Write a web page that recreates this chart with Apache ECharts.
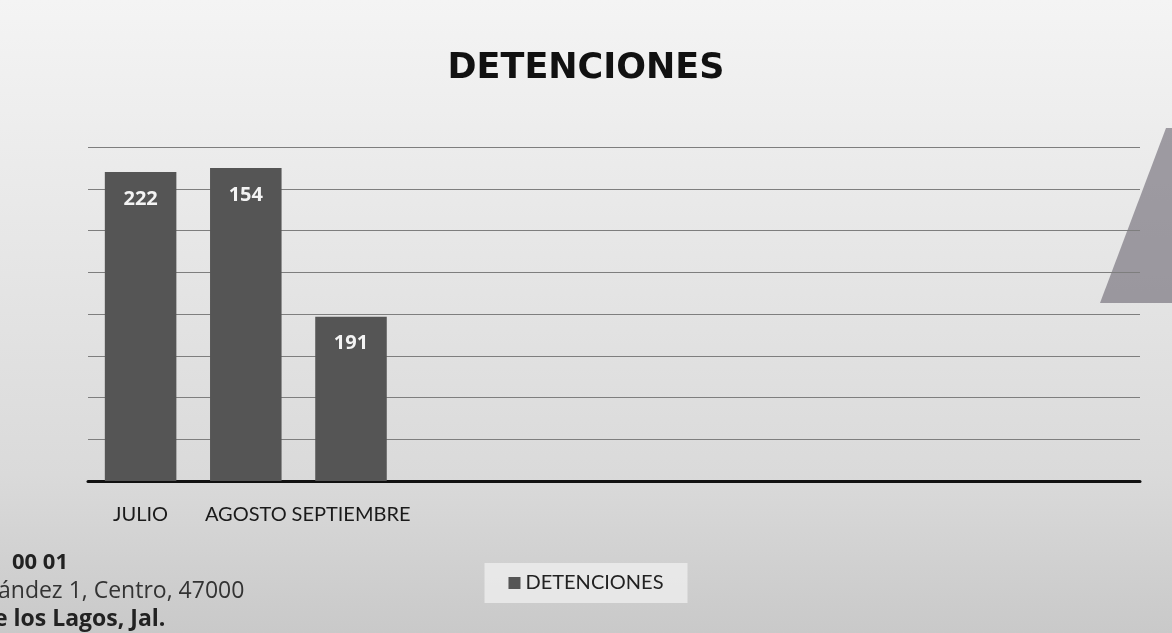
<!DOCTYPE html>
<html>
<head>
<meta charset="utf-8">
<script src="https://cdn.jsdelivr.net/npm/echarts@6/dist/echarts.min.js"></script>
<style>
  html, body { margin: 0; padding: 0; }
  #canvas { width: 1172px; height: 633px; }
</style>
</head>
<body>
<div id="canvas"></div>
<script>
/* eslint-disable no-undef */
const chart = echarts.init(document.getElementById('canvas'));

// months on the axis; the rest of the slots are empty in the original
const months = ['JULIO', 'AGOSTO', 'SEPTIEMBRE', '', '', '', '', '', '', ''];
// bar heights as read against the gridlines (30 per line)
const barHeights = [222, 225, 118];
// numbers printed on the bars
const printedValues = ['222', '154', '191'];

const option = {
  backgroundColor: {
    type: 'linear', x: 0, y: 0, x2: 0, y2: 1,
    colorStops: [
      { offset: 0, color: '#f4f4f4' },
      { offset: 0.75, color: '#dadada' },
      { offset: 1, color: '#c9c9c9' },
    ],
  },
  title: {
    text: 'DETENCIONES',
    left: 'center',
    top: 46,
    textStyle: {
      fontFamily: 'DejaVu Sans',
      fontWeight: 'bold',
      fontSize: 35,
      color: '#111',
    },
  },
  legend: {
    bottom: 30,
    left: 'center',
    icon: 'rect',
    itemWidth: 12,
    itemHeight: 12,
    itemGap: 6,
    padding: [10, 24],
    backgroundColor: 'rgba(242,242,242,0.7)',
    textStyle: { fontFamily: 'Lato', fontSize: 20, color: '#222' },
    data: ['DETENCIONES'],
  },
  grid: {
    left: 88,
    right: 32,
    top: 147,
    bottom: 152,
  },
  xAxis: {
    type: 'category',
    data: months,
    axisLine: { lineStyle: { color: '#111', width: 3 } },
    axisTick: { show: false },
    axisLabel: {
      fontFamily: 'Lato',
      fontSize: 20,
      color: '#1a1a1a',
      margin: 24,
      interval: 0,
    },
  },
  yAxis: {
    type: 'value',
    min: 0,
    max: 240,
    interval: 30,
    axisLabel: { show: false },
    axisLine: { show: false },
    axisTick: { show: false },
    splitLine: { lineStyle: { color: '#7e7e7e', width: 1 } },
  },
  series: [
    {
      name: 'DETENCIONES',
      type: 'bar',
      barCategoryGap: '32%',
      itemStyle: { color: '#555555' },
      label: {
        show: true,
        position: 'insideTop',
        distance: 17,
        formatter: (p) => printedValues[p.dataIndex],
        fontFamily: 'Open Sans',
        fontWeight: 'bold',
        fontSize: 20,
        color: '#f4f4f4',
      },
      data: barHeights,
    },
  ],
  graphic: [
    {
      type: 'polygon',
      shape: { points: [[1100, 303], [1166, 128], [1172, 128], [1172, 303]] },
      style: { fill: 'rgba(105,100,112,0.6)' },
      silent: true,
    },
    {
      type: 'text', left: 12, top: 552,
      style: { text: '00 01', font: 'bold 22px "Open Sans"', fill: '#222' },
    },
    {
      type: 'text', left: -2, top: 580,
      style: { text: 'ández 1, Centro, 47000', font: '23px "Open Sans"', fill: '#333' },
    },
    {
      type: 'text', left: -6, top: 608,
      style: { text: 'e los Lagos, Jal.', font: 'bold 23px "Open Sans"', fill: '#222' },
    },
  ],
};

chart.setOption(option);

window.onresize = chart.resize;
</script>
</body>
</html>
